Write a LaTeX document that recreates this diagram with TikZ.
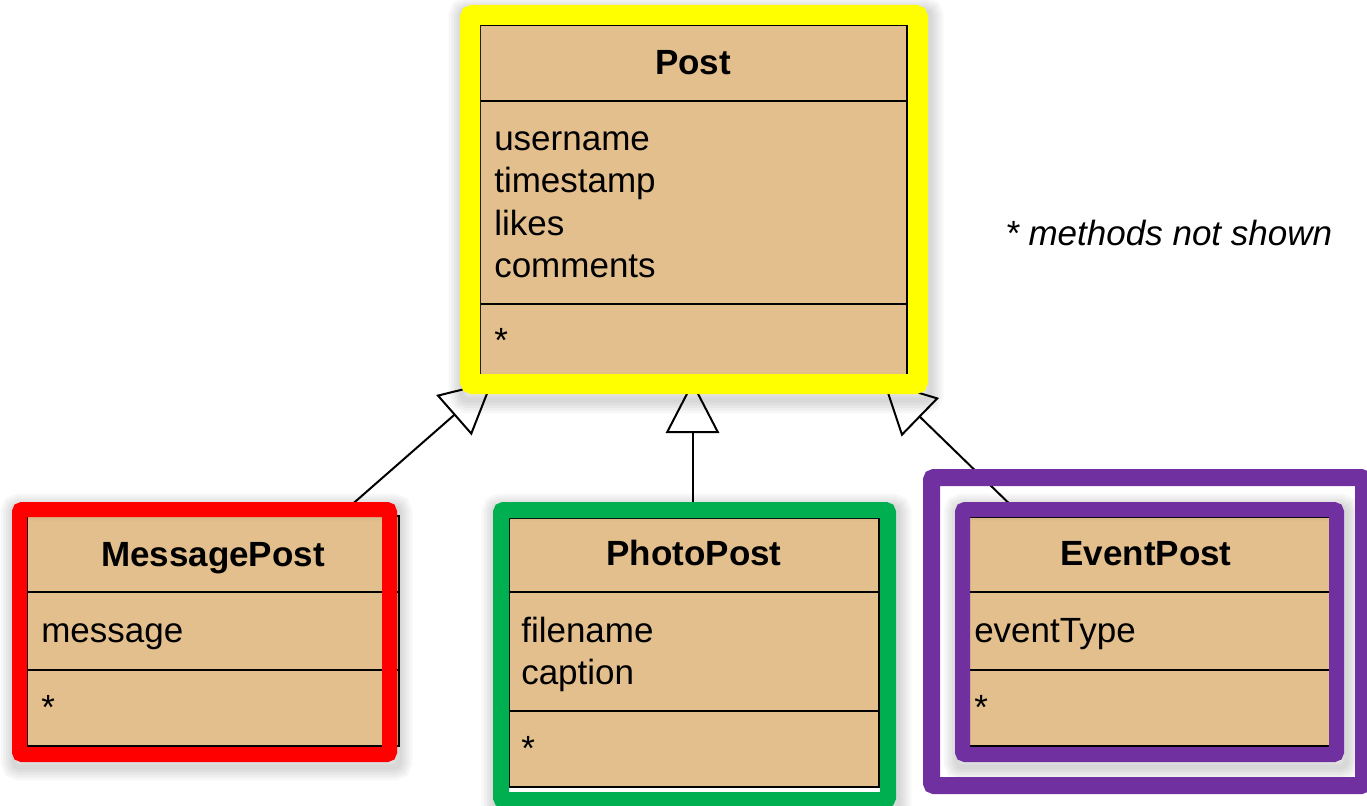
\documentclass[tikz,border=0pt]{standalone}
\usepackage{fontspec}
\setmainfont{Liberation Sans}
\usetikzlibrary{arrows.meta,fit}
\definecolor{beige}{HTML}{E3BF8E}
\definecolor{fyellow}{HTML}{FFFF00}
\definecolor{fred}{HTML}{FF0000}
\definecolor{fgreen}{HTML}{00B050}
\definecolor{fpurple}{HTML}{7030A0}
\begin{document}
\begin{tikzpicture}[x=0.75pt,y=-0.75pt,
  box/.style={draw=black, line width=1.5pt, fill=beige, inner sep=0pt},
  divider/.style={draw=black, line width=1.5pt},
  frame/.style={line width=#1, rounded corners=2pt},
  softshadow/.style={draw=black, opacity=0.03, rounded corners=4pt},
  title/.style={anchor=base, inner sep=0pt, font=\fontsize{26.25pt}{31.5pt}\selectfont\bfseries},
  attr/.style={anchor=base west, inner sep=0pt, font=\fontsize{26.25pt}{31.5pt}\selectfont},
  note/.style={anchor=base west, inner sep=0pt, font=\fontsize{26.25pt}{31.5pt}\selectfont\itshape},
  inherit/.style={line width=1.5pt, -{Triangle[open, length=39pt, width=40pt, line width=1.5pt]}},
]
\useasboundingbox (0,0) rectangle (1367,806);
\fill[white] (0,0) rectangle (1367,806);

% ---------- class boxes ----------
\node[box, fit={(480,25) (907,380)}] (post) {};
\node[box, fit={(27,516) (399,746)}] (msg) {};
\node[box, fit={(509,518) (879,787)}] (photo) {};
\node[box, fit={(960,517) (1330,746)}] (event) {};

% dividers
\draw[divider] (480,101) -- (907,101);
\draw[divider] (480,304) -- (907,304);
\draw[divider] (27,592) -- (399,592);
\draw[divider] (27,670) -- (399,670);
\draw[divider] (509,592) -- (879,592);
\draw[divider] (509,711) -- (879,711);
\draw[divider] (960,592) -- (1330,592);
\draw[divider] (960,670) -- (1330,670);

% texts
\node[title] (postT) at (693,75) {Post};
\node[attr] (postA1) at (494,151) {username};
\node[attr] (postA2) at (494,193) {timestamp};
\node[attr] (postA3) at (494,235) {likes};
\node[attr] (postA4) at (494,277) {comments};
\node[attr] (postM) at (494,352) {*};

\node[title] (msgT) at (213,566) {MessagePost};
\node[attr] (msgA1) at (41,642) {message};
\node[attr] (msgM) at (41,719) {*};

\node[title] (photoT) at (694,565) {PhotoPost};
\node[attr] (photoA1) at (521,642) {filename};
\node[attr] (photoA2) at (521,684) {caption};
\node[attr] (photoM) at (521,760) {*};

\node[title] (eventT) at (1146,565) {EventPost};
\node[attr] (eventA1) at (974,642) {eventType};
\node[attr] (eventM) at (974,719) {*};

\node[note] (noteT) at (1005,245) {* methods not shown};

% ---------- inheritance connectors ----------
\path (msg.north west) ++(314,0) coordinate (msgTop);
\path (post.south west) ++(14,0) coordinate (postL);
\path (event.north west) ++(63,0) coordinate (eventTop);
\path (post.south east) ++(-25,0) coordinate (postR);
\path (post.south) ++(-1,0) coordinate (postM2);
\path (postM2 |- photo.north) coordinate (photoTop);

\draw[inherit] (msgTop) -- (postL);
\draw[inherit] (photoTop) -- (postM2);
\draw[inherit] (eventTop) -- (postR);

% ---------- soft shadows of the frames ----------
\foreach \w in {4,8,12,16,20} {
  \draw[softshadow, line width=\w pt] (462,11) rectangle (930,400);
  \draw[softshadow, line width=\w pt] (14,507) rectangle (399,767);
  \draw[softshadow, line width=\w pt] (495,507) rectangle (898,812);
  \draw[softshadow, line width=\w pt] (957,507) rectangle (1346,767);
}

% ---------- coloured highlight frames ----------
\draw[frame=15pt, draw=fyellow] (470,15) rectangle (918,384);
\draw[frame=11.25pt, draw=fred] (19.5,509.5) rectangle (389.5,754.5);
\draw[frame=12pt, draw=fgreen] (501,510) rectangle (888,800);
\draw[frame=12.75pt, draw=fpurple] (931.5,477.5) rectangle (1363.5,785.5);
\draw[frame=11.25pt, draw=fpurple] (962.5,509.5) rectangle (1336.5,754.5);
\end{tikzpicture}
\end{document}
